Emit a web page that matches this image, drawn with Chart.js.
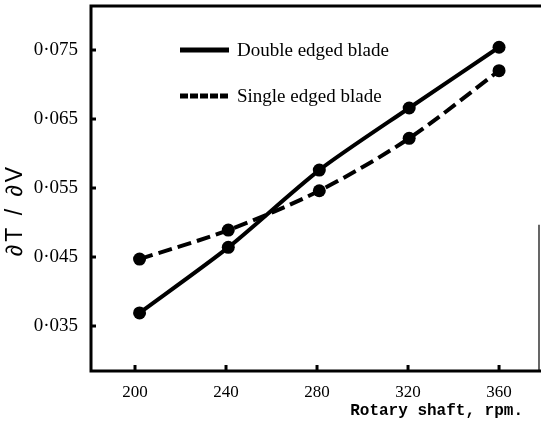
<!DOCTYPE html>
<html>
<head>
<meta charset="utf-8">
<script src="https://cdn.jsdelivr.net/npm/chart.js@4/dist/chart.umd.min.js"></script>
<style>
html,body{margin:0;padding:0;background:#fff;}
#wrap{width:541px;height:431px;position:relative;}
</style>
</head>
<body>
<div id="wrap"><canvas id="c" width="541" height="431"></canvas></div>
<script>
// ---- data ----
const seriesNames = ['Double edged blade', 'Single edged blade'];
const doubleX = [202, 241, 281, 320.5, 360];
const doubleY = [0.0369, 0.0464, 0.0576, 0.0666, 0.0754];
const singleX = [202, 241, 281, 320.5, 360];
const singleY = [0.0447, 0.0489, 0.0546, 0.0622, 0.0720];
const xTickValues = [200, 240, 280, 320, 360];
const xTickLabels = ['200', '240', '280', '320', '360'];
const yTickValues = [0.035, 0.045, 0.055, 0.065, 0.075];
const yTickLabels = ['0·035', '0·045', '0·055', '0·065', '0·075'];
const xTitle = 'Rotary shaft, rpm.';
const yTitle = '∂T / ∂V';

const toPts = (xs, ys) => xs.map((x, i) => ({x: x, y: ys[i]}));

const framePlugin = {
  id: 'frame',
  afterDatasetsDraw(chart) {
    const ctx = chart.ctx, a = chart.chartArea;
    const xs = chart.scales.x, ys = chart.scales.y;
    ctx.save();
    ctx.strokeStyle = '#000';
    ctx.lineCap = 'square';
    // thick left, top, bottom
    ctx.lineWidth = 3;
    ctx.beginPath();
    ctx.moveTo(a.right, a.top); ctx.lineTo(a.left, a.top);
    ctx.lineTo(a.left, a.bottom); ctx.lineTo(a.right, a.bottom);
    ctx.stroke();
    // thin partial right border (lower part only, as in the scan)
    ctx.lineWidth = 1.2;
    ctx.beginPath();
    ctx.moveTo(a.right - 1, ys.getPixelForValue(0.0496)); ctx.lineTo(a.right - 1, a.bottom);
    ctx.stroke();
    // inward ticks
    ctx.lineWidth = 3;
    ctx.lineCap = 'butt';
    xTickValues.forEach(v => {
      const px = xs.getPixelForValue(v);
      ctx.beginPath(); ctx.moveTo(px, a.bottom); ctx.lineTo(px, a.bottom - 6); ctx.stroke();
    });
    yTickValues.forEach(v => {
      const py = ys.getPixelForValue(v);
      ctx.beginPath(); ctx.moveTo(a.left, py); ctx.lineTo(a.left + 5, py); ctx.stroke();
    });
    // legend
    ctx.fillStyle = '#000';
    ctx.font = '19px "Liberation Serif", serif';
    ctx.textBaseline = 'middle';
    ctx.textAlign = 'left';
    const ly = [50, 96];
    const dashes = [[], [8, 2]];
    for (let i = 0; i < 2; i++) {
      ctx.lineWidth = 5;
      ctx.setLineDash(dashes[i]);
      ctx.beginPath(); ctx.moveTo(180, ly[i]); ctx.lineTo(229, ly[i]); ctx.stroke();
      ctx.setLineDash([]);
      ctx.fillText(seriesNames[i], 237, ly[i] + 1);
    }
    // axis titles
    ctx.font = 'bold 16px "Liberation Mono", monospace';
    ctx.textAlign = 'right';
    ctx.fillText(xTitle, 523, 411);
    ctx.save();
    ctx.translate(16, 210);
    ctx.rotate(-Math.PI / 2);
    ctx.textAlign = 'center';
    ctx.font = '23px "Liberation Sans", sans-serif';
    ctx.letterSpacing = '3px';
    ctx.fillText(yTitle, 0, 0);
    ctx.restore();
    ctx.restore();
  }
};

const noPad = s => { s.paddingTop = 0; s.paddingBottom = 0; s.paddingLeft = 0; s.paddingRight = 0; };

new Chart(document.getElementById('c'), {
  type: 'line',
  data: {
    datasets: [
      {
        label: seriesNames[0],
        data: toPts(doubleX, doubleY),
        borderColor: '#000', backgroundColor: '#000',
        borderWidth: 4, pointRadius: 6.5, pointBackgroundColor: '#000',
        pointBorderWidth: 0, tension: 0.25, fill: false
      },
      {
        label: seriesNames[1],
        data: toPts(singleX, singleY),
        borderColor: '#000', backgroundColor: '#000',
        borderWidth: 4, borderDash: [14, 6], pointRadius: 6.5, pointBackgroundColor: '#000',
        pointBorderWidth: 0, tension: 0.3, fill: false
      }
    ]
  },
  options: {
    responsive: false,
    animation: false,
    layout: {autoPadding: false, padding: {top: 6, right: 1, left: 0, bottom: 0}},
    plugins: {legend: {display: false}, tooltip: {enabled: false}},
    scales: {
      x: {
        type: 'linear', min: 180.66, max: 378,
        grid: {display: false, drawTicks: false, tickLength: 0}, border: {display: false},
        afterBuildTicks: s => { s.ticks = xTickValues.map(v => ({value: v})); },
        afterFit: s => { s.height = 60; noPad(s); },
        ticks: {
          color: '#000', padding: 11, maxRotation: 0,
          font: {family: '"Liberation Serif", serif', size: 17},
          callback: v => xTickLabels[xTickValues.indexOf(v)]
        }
      },
      y: {
        type: 'linear', min: 0.02848, max: 0.08138,
        grid: {display: false, drawTicks: false, tickLength: 0}, border: {display: false},
        afterBuildTicks: s => { s.ticks = yTickValues.map(v => ({value: v})); },
        afterFit: s => { s.width = 91; noPad(s); },
        ticks: {
          color: '#000', padding: 13,
          font: {family: '"Liberation Serif", serif', size: 19},
          callback: v => yTickLabels[yTickValues.indexOf(v)]
        }
      }
    }
  },
  plugins: [framePlugin]
});
</script>
</body>
</html>
